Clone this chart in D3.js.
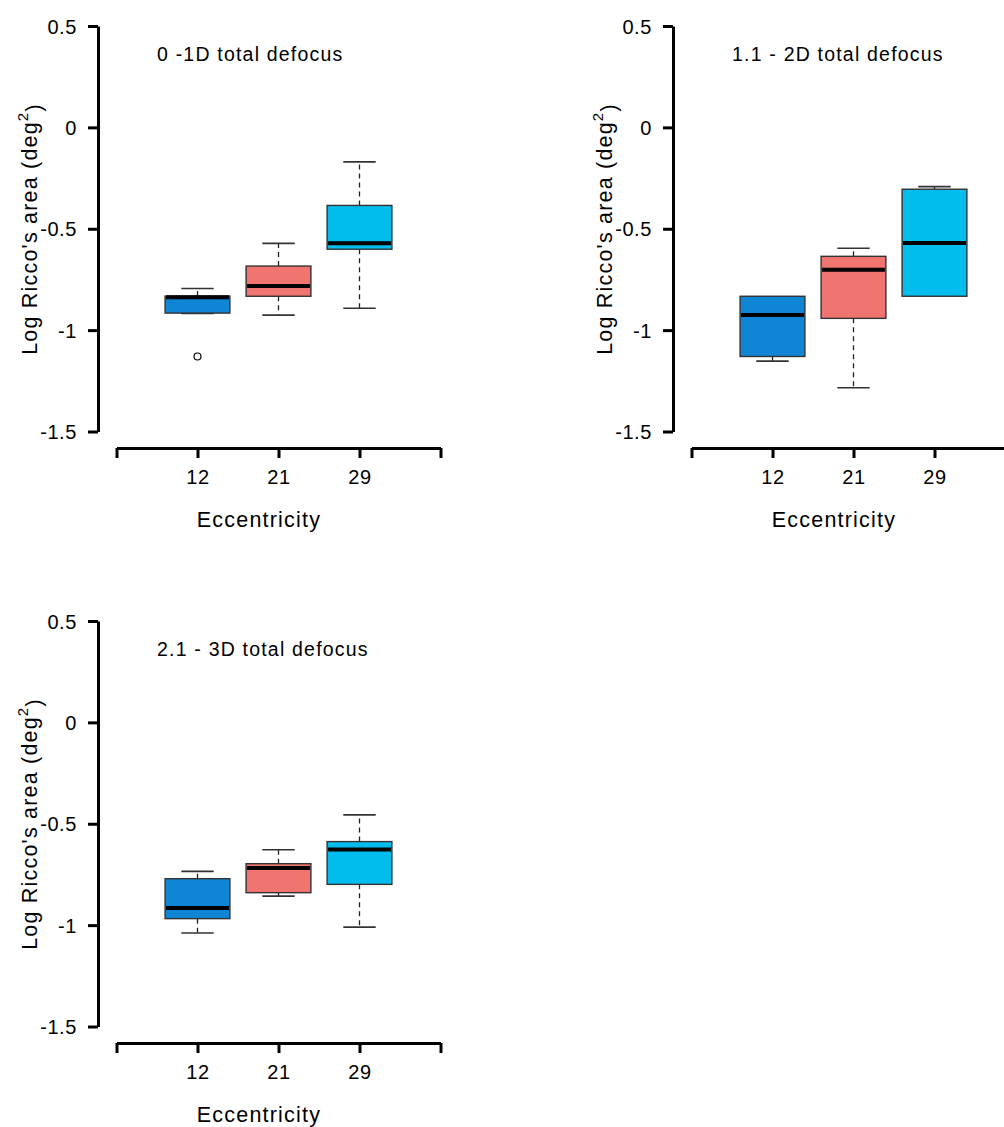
<!DOCTYPE html>
<html>
<head>
<meta charset="utf-8">
<script src="https://cdn.jsdelivr.net/npm/d3@7"></script>
<style>
  body { margin: 0; background: #fff; }
  text { font-family: "Liberation Sans", Arial, sans-serif; fill: #000; letter-spacing: 1.2px; }
  .axis path, .axis line { stroke: #000; stroke-width: 3; }
</style>
</head>
<body>
<script>
// groups on the x axis
const categories = ["12", "21", "29"]
const xTickLabels = ["", "12", "21", "29", ""]
const yTicks = [0.5, 0, -0.5, -1, -1.5]
const titles = ["0 -1D total defocus", "1.1 - 2D total defocus", "2.1 - 3D total defocus"]
const colors = ["#1185d5", "#f07470", "#00bdee"]

// box stats per panel, one entry per category: [lower whisker, q1, median, q3, upper whisker]
const panel1 = [
    [-0.918, -0.916, -0.838, -0.832, -0.795],
    [-0.926, -0.833, -0.782, -0.684, -0.572],
    [-0.892, -0.601, -0.572, -0.385, -0.170]
]
const panel2 = [
    [-1.153, -1.130, -0.926, -0.833, -0.833],
    [-1.284, -0.942, -0.702, -0.636, -0.596],
    [-0.833, -0.833, -0.570, -0.305, -0.292]
]
const panel3 = [
    [-1.039, -0.968, -0.916, -0.771, -0.735],
    [-0.857, -0.840, -0.718, -0.697, -0.628],
    [-1.010, -0.799, -0.627, -0.588, -0.456]
]
// outliers: [category index, value]
const outliers1 = [[0, -1.13]]
const outliers2 = []
const outliers3 = []

const panels = [
    { stats: panel1, out: outliers1, title: titles[0], dx: 0, dy: 0 },
    { stats: panel2, out: outliers2, title: titles[1], dx: 575, dy: 0 },
    { stats: panel3, out: outliers3, title: titles[2], dx: 0, dy: 595 }
]

const svg = d3.select("body")
    .append("svg")
    .attr("width", 1004)
    .attr("height", 1127);

svg.append("rect").attr("width", 1004).attr("height", 1127).attr("fill", "#fff");

const x = d3.scaleLinear().domain([0, 4]).range([116.5, 440.5]);
const y = d3.scaleLinear().domain([-1.5, 0.5]).range([431.5, 26]);
const boxHalf = 0.4, capHalf = 0.2;

panels.forEach(function (p) {
    const g = svg.append("g")
        .attr("transform", "translate(" + p.dx + "," + p.dy + ")");

    g.append("g")
        .attr("class", "axis")
        .attr("transform", "translate(98,0)")
        .call(d3.axisLeft(y)
            .tickValues(yTicks)
            .tickSize(10)
            .tickSizeOuter(0)
            .tickPadding(11)
            .tickFormat(d => String(d)))
        .call(a => a.selectAll("text").attr("dy", "0.36em"));

    g.append("g")
        .attr("class", "axis")
        .attr("transform", "translate(0,448)")
        .call(d3.axisBottom(x)
            .tickValues([0, 1, 2, 3, 4])
            .tickSize(10)
            .tickSizeOuter(0)
            .tickPadding(12)
            .tickFormat((d, i) => xTickLabels[i]));

    g.selectAll(".axis text")
        .style("font-size", "20px")
        .style("letter-spacing", "0.6px");

    const box = g.selectAll(".box")
        .data(p.stats)
        .enter()
        .append("g")
        .attr("class", "box");

    // whiskers
    box.append("line")
        .attr("x1", (d, i) => x(i + 1)).attr("x2", (d, i) => x(i + 1))
        .attr("y1", d => y(d[3])).attr("y2", d => y(d[4]))
        .attr("stroke", "#222").attr("stroke-width", 1.3).attr("stroke-dasharray", "5,4");
    box.append("line")
        .attr("x1", (d, i) => x(i + 1)).attr("x2", (d, i) => x(i + 1))
        .attr("y1", d => y(d[1])).attr("y2", d => y(d[0]))
        .attr("stroke", "#222").attr("stroke-width", 1.3).attr("stroke-dasharray", "5,4");

    // caps
    [0, 4].forEach(function (k) {
        box.filter(d => d[k] !== d[k === 0 ? 1 : 3])
            .append("line")
            .attr("x1", d => x(p.stats.indexOf(d) + 1 - capHalf))
            .attr("x2", d => x(p.stats.indexOf(d) + 1 + capHalf))
            .attr("y1", d => y(d[k])).attr("y2", d => y(d[k]))
            .attr("stroke", "#333").attr("stroke-width", 1.6);
    });

    box.append("rect")
        .attr("x", (d, i) => x(i + 1 - boxHalf))
        .attr("width", x(1 + boxHalf) - x(1 - boxHalf))
        .attr("y", d => y(d[3]))
        .attr("height", d => y(d[1]) - y(d[3]))
        .attr("fill", (d, i) => colors[i])
        .attr("stroke", "#333").attr("stroke-width", 1.4);

    box.append("line")
        .attr("x1", (d, i) => x(i + 1 - boxHalf) + 1).attr("x2", (d, i) => x(i + 1 + boxHalf) - 1)
        .attr("y1", d => y(d[2])).attr("y2", d => y(d[2]))
        .attr("stroke", "#000").attr("stroke-width", 4);

    g.selectAll(".outlier")
        .data(p.out)
        .enter()
        .append("circle")
        .attr("cx", d => x(d[0] + 1))
        .attr("cy", d => y(d[1]))
        .attr("r", 3.5)
        .attr("fill", "none")
        .attr("stroke", "#000")
        .attr("stroke-width", 1.2);

    g.append("text")
        .attr("x", 157).attr("y", 61)
        .style("font-size", "19.5px")
        .text(p.title);

    g.append("text")
        .attr("x", 259).attr("y", 527)
        .attr("text-anchor", "middle")
        .style("font-size", "21.5px")
        .text("Eccentricity");

    const yl = g.append("text")
        .attr("transform", "translate(37,229) rotate(-90)")
        .attr("text-anchor", "middle")
        .style("font-size", "21.5px");
    yl.append("tspan").text("Log Ricco's area (deg");
    yl.append("tspan").attr("dy", "-0.6em").style("font-size", "15px").text("2");
    yl.append("tspan").attr("dy", "0.6em").text(")");
});
</script>
</body>
</html>
